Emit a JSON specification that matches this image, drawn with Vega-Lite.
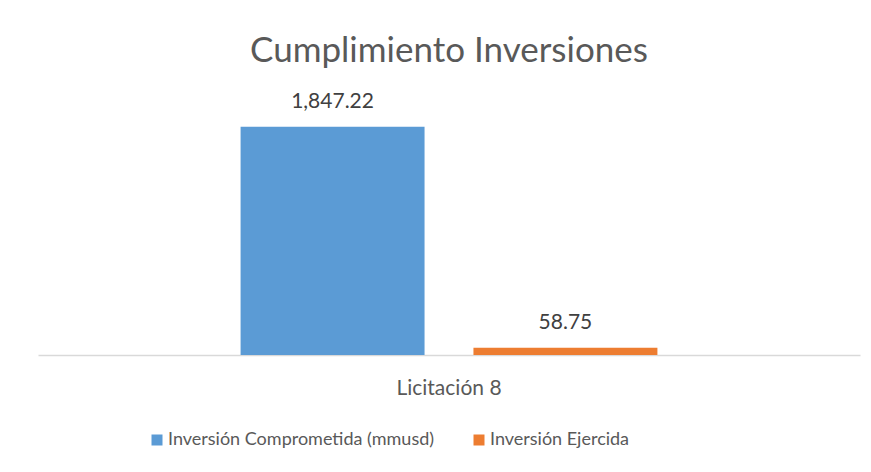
{
  "$schema": "https://vega.github.io/schema/vega-lite/v6.json",
  "width": 822,
  "height": 247,
  "autosize": {"type": "none"},
  "padding": {"left": 38, "top": 108, "right": 11, "bottom": 117},
  "background": "white",
  "config": {"view": {"stroke": null}, "font": "Lato"},
  "title": {
    "text": "Cumplimiento Inversiones",
    "fontSize": 35,
    "font": "Lato",
    "fontWeight": "normal",
    "color": "#595959",
    "anchor": "middle",
    "offset": 22
  },
  "data": {
    "values": [
      {"licitacion": "Licitación 8", "serie": "Inversión Comprometida (mmusd)", "valor": 1847.22},
      {"licitacion": "Licitación 8", "serie": "Inversión Ejercida", "valor": 58.75}
    ]
  },
  "encoding": {
    "x": {
      "field": "licitacion",
      "type": "nominal",
      "scale": {"paddingInner": 0, "paddingOuter": 0.486},
      "axis": {
        "title": null,
        "labelAngle": 0,
        "domainColor": "#d9d9d9",
        "domainWidth": 1.5,
        "ticks": false,
        "labelFontSize": 21,
        "labelColor": "#595959",
        "labelFont": "Lato",
        "labelPadding": 22
      }
    },
    "xOffset": {
      "field": "serie",
      "type": "nominal",
      "sort": ["Inversión Comprometida (mmusd)", "Inversión Ejercida"],
      "scale": {"paddingInner": 0.21, "paddingOuter": 0}
    },
    "y": {
      "field": "valor",
      "type": "quantitative",
      "scale": {"domain": [0, 2000]},
      "axis": null
    }
  },
  "layer": [
    {
      "mark": {"type": "bar"},
      "encoding": {
        "color": {
          "field": "serie",
          "type": "nominal",
          "sort": ["Inversión Comprometida (mmusd)", "Inversión Ejercida"],
          "scale": {"range": ["#5b9bd5", "#ed7d31"]},
          "legend": {
            "title": null,
            "orient": "none",
            "direction": "horizontal",
            "legendX": 110,
            "legendY": 323,
            "padding": 0,
            "symbolType": "square",
            "symbolSize": 121,
            "symbolStrokeWidth": 0,
            "labelFontSize": 18,
            "labelFont": "Lato",
            "labelColor": "#595959",
            "labelOffset": 2,
            "labelLimit": 500,
            "columnPadding": 35
          }
        }
      }
    },
    {
      "mark": {"type": "text", "baseline": "alphabetic", "dy": -19, "fontSize": 21, "font": "Lato", "color": "#404040"},
      "encoding": {
        "text": {"field": "valor", "type": "quantitative", "format": ",.2f"}
      }
    }
  ]
}
